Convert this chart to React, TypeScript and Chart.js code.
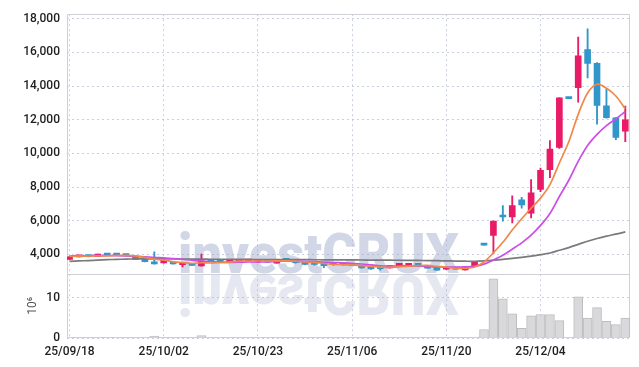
import React, { useEffect, useRef } from 'react';
import { Chart, registerables } from 'chart.js';

Chart.register(...registerables);

// ---- Data ----
const xTickIndex = [0, 10, 20, 30, 40, 50];
const xTickLabels = ['25/09/18', '25/10/02', '25/10/23', '25/11/06', '25/11/20', '25/12/04'];
const priceTicks = [4000, 6000, 8000, 10000, 12000, 14000, 16000, 18000];
const volumeTicks = [0, 10];

const opens = [3700, 3850, 3880, 3870, 4010, 3960, 3950, 3870, 3720, 3500, 3485, 3560, 3390, 3440, 3310, 3660, 3620, 3520, 3560, 3600, 3530, 3640, 3480, 3660, 3660, 3520, 3420, 3480, 3380, 3390, 3360, 3320, 3190, 3150, 3190, 3290, 3310, 3460, 3280, 3230, 3110, 3200, 3070, 3300, 4570, 5130, 6260, 6220, 7240, 6450, 7860, 9030, 10360, 13290, 13900, 16170, 15350, 12830, 12120, 11320];
const highs = [3870, 3890, 3900, 4020, 4020, 3980, 3960, 3880, 3730, 4150, 3680, 3570, 3470, 3450, 4010, 3670, 3630, 3600, 3640, 3620, 3700, 3650, 3670, 3680, 3670, 3530, 3470, 3490, 3480, 3400, 3370, 3330, 3230, 3260, 3340, 3470, 3470, 3470, 3300, 3240, 3240, 3210, 3260, 3590, 4570, 5980, 6900, 7470, 7390, 8450, 9130, 10760, 13300, 13290, 16920, 17400, 15400, 13820, 12130, 12810];
const lows = [3690, 3840, 3850, 3860, 3950, 3940, 3910, 3690, 3550, 3420, 3480, 3420, 3250, 3340, 3300, 3570, 3550, 3510, 3550, 3580, 3520, 3520, 3470, 3640, 3480, 3390, 3350, 3210, 3360, 3360, 3330, 3180, 3100, 3060, 3180, 3280, 3300, 3260, 3160, 3040, 3100, 3110, 3060, 3290, 4550, 4050, 5970, 5870, 6750, 6160, 7720, 8560, 10300, 13250, 13040, 14490, 11730, 12100, 10820, 10700];
const closes = [3850, 3870, 3860, 4010, 3960, 3950, 3920, 3700, 3560, 3430, 3660, 3430, 3460, 3345, 3600, 3580, 3560, 3590, 3620, 3610, 3640, 3530, 3660, 3650, 3500, 3400, 3400, 3330, 3400, 3370, 3340, 3190, 3130, 3140, 3330, 3460, 3460, 3270, 3170, 3060, 3230, 3120, 3250, 3580, 4550, 5970, 6220, 6900, 6940, 7650, 9000, 10250, 13300, 13260, 15800, 15350, 12850, 12120, 10950, 12000];
// volume in millions of shares
const volumes = [0.02, 0.01, 0.01, 0.03, 0.02, 0.01, 0.01, 0.03, 0.04, 0.45, 0.05, 0.03, 0.04, 0.02, 0.6, 0.03, 0.02, 0.02, 0.03, 0.01, 0.04, 0.02, 0.03, 0.01, 0.03, 0.02, 0.02, 0.04, 0.03, 0.01, 0.01, 0.03, 0.03, 0.02, 0.03, 0.03, 0.02, 0.03, 0.02, 0.03, 0.02, 0.01, 0.03, 0.25, 2.1, 14.6, 9.7, 6.0, 2.4, 5.5, 5.8, 5.8, 4.3, 0, 10.2, 4.9, 7.5, 4.1, 3.3, 4.9];
const ma5 = [3880, 3890, 3890, 3910, 3910, 3930, 3940, 3908, 3818, 3712, 3654, 3556, 3508, 3465, 3499, 3483, 3509, 3535, 3590, 3592, 3604, 3598, 3612, 3618, 3596, 3548, 3522, 3456, 3406, 3380, 3368, 3326, 3286, 3234, 3226, 3250, 3304, 3332, 3338, 3284, 3238, 3170, 3166, 3248, 3546, 4094, 4714, 5444, 6116, 6736, 7342, 8148, 9428, 10692, 12322, 13592, 14112, 13876, 13414, 12654];
const ma10 = [3900, 3910, 3915, 3925, 3930, 3925, 3905, 3880, 3850, 3811, 3792, 3748, 3708, 3642, 3606, 3569, 3533, 3522, 3528, 3546, 3544, 3554, 3574, 3604, 3594, 3576, 3560, 3534, 3512, 3488, 3458, 3424, 3371, 3320, 3303, 3309, 3315, 3309, 3286, 3255, 3244, 3237, 3249, 3293, 3415, 3666, 3942, 4305, 4682, 5141, 5718, 6431, 7436, 8404, 9529, 10467, 11130, 11652, 12053, 12488];
const ma60 = [3580, 3605, 3630, 3655, 3680, 3700, 3715, 3725, 3730, 3730, 3728, 3725, 3720, 3716, 3712, 3708, 3704, 3700, 3697, 3694, 3691, 3688, 3686, 3684, 3682, 3680, 3678, 3675, 3672, 3669, 3666, 3662, 3658, 3654, 3650, 3646, 3642, 3637, 3630, 3620, 3610, 3600, 3590, 3585, 3610, 3650, 3700, 3760, 3820, 3890, 3980, 4080, 4240, 4400, 4590, 4780, 4940, 5080, 5200, 5330];

const UP = '#e91a66';
const DOWN = '#3196c9';
const GRID = 'rgba(160,170,200,0.55)';
const FONT = { family: 'Roboto', size: 12, weight: '500' as const };

const watermark = {
  id: 'watermark',
  beforeDraw(chart: any) {
    const { ctx } = chart;
    const text = 'investCRUX';
    ctx.save();
    ctx.font = '900 55px Roboto';
    const w = ctx.measureText(text).width;
    const sx = 281 / w;
    ctx.translate(178, 273);
    ctx.scale(sx, 1);
    ctx.textBaseline = 'alphabetic';
    ctx.textAlign = 'left';
    ctx.fillStyle = '#d2d7e7';
    ctx.fillText(text, 0, 0);
    ctx.scale(1, -1);
    ctx.fillStyle = '#e5e8f1';
    ctx.fillText(text, 0, -2);
    ctx.restore();
  },
};

const frame = {
  id: 'frame',
  beforeDatasetsDraw(chart: any) {
    const { ctx, chartArea } = chart;
    const y = chart.scales.y;
    const l = Math.round(chartArea.left) + 0.5;
    const r = Math.round(chartArea.right) - 0.5;
    const t = Math.round(chartArea.top) + 0.5;
    const b = Math.round(chartArea.bottom) - 0.5;
    ctx.save();
    ctx.strokeStyle = '#cfd0d6';
    ctx.lineWidth = 1;
    ctx.beginPath();
    ctx.moveTo(l, t); ctx.lineTo(r, t); ctx.lineTo(r, b); ctx.lineTo(l, b); ctx.closePath();
    const sy = Math.round(y.bottom) + 0.5;
    ctx.moveTo(l, sy); ctx.lineTo(r, sy);
    ctx.stroke();
    ctx.restore();
  },
};

export default function App() {
  const ref = useRef<HTMLCanvasElement>(null);

  useEffect(() => {
    const canvas = ref.current;
    if (!canvas) return;
    const idx = closes.map((_, i) => i);
    const colors = idx.map((i) => (closes[i] >= opens[i] ? UP : DOWN));

    const chart = new Chart(canvas, {
      type: 'bar',
      data: {
        datasets: [
          {
            type: 'line',
            label: 'MA5',
            data: idx.map((i) => ({ x: i, y: ma5[i] })),
            borderColor: '#f0884a',
            borderWidth: 1.7,
            pointRadius: 0,
            tension: 0.3,
            yAxisID: 'y',
            order: 0,
          } as any,
          {
            type: 'line',
            label: 'MA10',
            data: idx.map((i) => ({ x: i, y: ma10[i] })),
            borderColor: '#cc4ee8',
            borderWidth: 1.7,
            pointRadius: 0,
            tension: 0.3,
            yAxisID: 'y',
            order: 0,
          } as any,
          {
            type: 'line',
            label: 'MA60',
            data: idx.map((i) => ({ x: i, y: ma60[i] })),
            borderColor: '#7a7a7a',
            borderWidth: 1.7,
            pointRadius: 0,
            tension: 0.3,
            yAxisID: 'y',
            order: 0,
          } as any,
          {
            type: 'bar',
            label: 'body',
            data: idx.map((i) => ({ x: i, y: [opens[i], closes[i]] })),
            backgroundColor: colors,
            borderWidth: 0,
            barThickness: 6,
            minBarLength: 2,
            grouped: false,
            yAxisID: 'y',
            order: 1,
          } as any,
          {
            type: 'bar',
            label: 'wick',
            data: idx.map((i) => ({ x: i, y: [lows[i], highs[i]] })),
            backgroundColor: colors,
            borderWidth: 0,
            barThickness: 1.2,
            grouped: false,
            yAxisID: 'y',
            order: 2,
          } as any,
          {
            type: 'bar',
            label: 'volume',
            data: idx.map((i) => ({ x: i, y: volumes[i] })),
            backgroundColor: '#d9d9db',
            borderColor: '#bdbdc0',
            borderWidth: 1,
            barThickness: 9,
            grouped: false,
            yAxisID: 'yv',
            order: 3,
          } as any,
        ],
      },
      options: {
        responsive: false,
        animation: false,
        devicePixelRatio: 1,
        layout: { padding: { left: 20, right: 9, top: 10, bottom: 0 } },
        plugins: { legend: { display: false }, tooltip: { enabled: false } },
        scales: {
          x: {
            type: 'linear',
            position: 'bottom',
            min: -0.27,
            max: 59.5,
            offset: false,
            grid: { color: GRID, lineWidth: 1, drawTicks: false, offset: false },
            border: { display: false, dash: [2, 3] },
            afterBuildTicks: (axis: any) => {
              axis.ticks = xTickIndex.map((v) => ({ value: v }));
            },
            afterFit: (axis: any) => {
              axis.height = 29;
            },
            ticks: {
              autoSkip: false,
              maxRotation: 0,
              padding: 7,
              color: '#1e1e1e',
              font: FONT,
              callback: (v: any) => xTickLabels[xTickIndex.indexOf(Number(v))] ?? '',
            },
          },
          yv: {
            type: 'linear',
            position: 'left',
            stack: 'panes',
            stackWeight: 65,
            min: 0,
            max: 15.85,
            grid: { color: GRID, lineWidth: 1, drawTicks: false },
            border: { display: false, dash: [2, 3] },
            afterBuildTicks: (axis: any) => {
              axis.ticks = volumeTicks.map((v) => ({ value: v }));
            },
            afterFit: (axis: any) => {
              axis.width = 47;
            },
            title: {
              display: true,
              text: '10⁶',
              color: '#555',
              font: { family: 'Roboto', size: 12 },
              padding: { top: 6, bottom: 0 },
            },
            ticks: { padding: 7, color: '#1e1e1e', font: FONT },
          },
          y: {
            type: 'linear',
            position: 'left',
            stack: 'panes',
            stackWeight: 263,
            min: 2840,
            max: 18275,
            grid: { color: GRID, lineWidth: 1, drawTicks: false },
            border: { display: false, dash: [2, 3] },
            afterBuildTicks: (axis: any) => {
              axis.ticks = priceTicks.map((v) => ({ value: v }));
            },
            afterFit: (axis: any) => {
              axis.width = 47;
            },
            ticks: {
              padding: 7,
              color: '#1e1e1e',
              font: FONT,
              callback: (v: any) => Number(v).toLocaleString('en-US'),
            },
          },
        },
      } as any,
      plugins: [watermark, frame],
    });

    return () => chart.destroy();
  }, []);

  return (
    <div style={{ position: 'fixed', left: 0, top: 0, width: 639, height: 367, background: '#fff' }}>
      <canvas ref={ref} width={639} height={367} style={{ display: 'block' }} />
    </div>
  );
}
